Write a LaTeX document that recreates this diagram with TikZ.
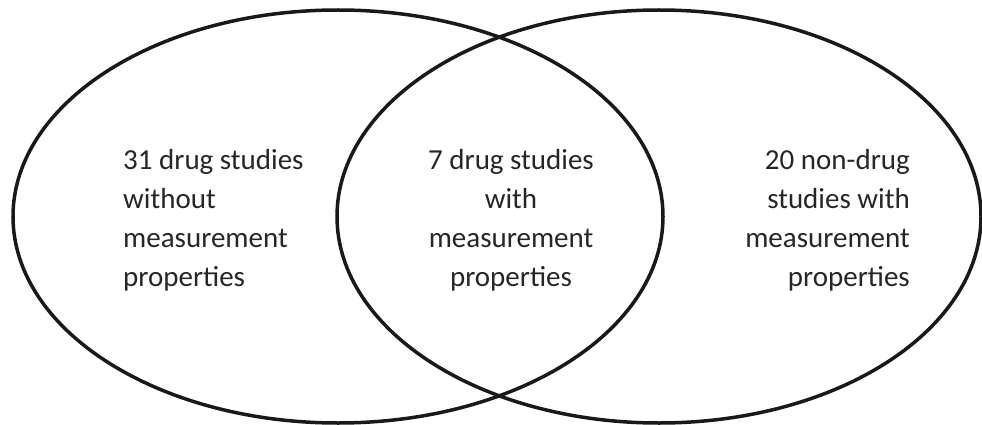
\documentclass[tikz,border=0pt]{standalone}
\usepackage{fontspec}
\setmainfont{Carlito}
\begin{document}
\begin{tikzpicture}[x=1pt,y=-1pt,
  ring/.style={draw=black!90,line width=3.5pt},
  lbl/.style={font=\fontsize{29}{39}\selectfont,text=black!85,inner sep=0pt}]
\useasboundingbox (0,0) rectangle (982,425);
\draw[ring] (338,216.5) ellipse [x radius=325,y radius=206.5];
\draw[ring] (659,216.5) ellipse [x radius=322,y radius=206.5];
\node[lbl,align=left,anchor=west] (l) at (123,220) {31 drug studies\\without\\measurement\\properties};
\node[lbl,align=center] (m) at (511,220) {7 drug studies\\with\\measurement\\properties};
\node[lbl,align=right,anchor=east] (r) at (910,220) {20 non-drug\\studies with\\measurement\\properties};
\end{tikzpicture}
\end{document}
